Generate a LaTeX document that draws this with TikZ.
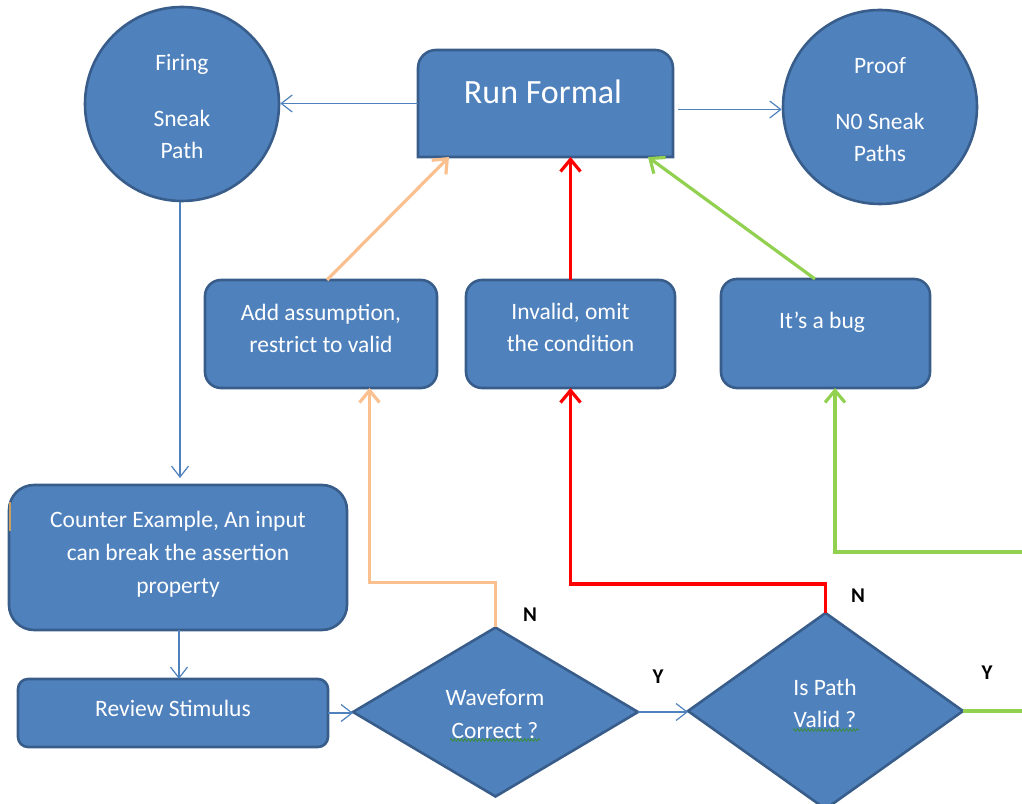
\documentclass[tikz,border=0pt]{standalone}
\usepackage{fontspec}
\setmainfont{Carlito}
\usetikzlibrary{arrows.meta,shapes.geometric,calc,decorations.pathmorphing}
\definecolor{boxfill}{RGB}{79,129,189}
\definecolor{boxedge}{RGB}{56,93,138}
\definecolor{flowblue}{RGB}{79,129,189}
\definecolor{peach}{RGB}{250,192,144}
\definecolor{leaf}{RGB}{146,208,80}
\definecolor{spellgreen}{RGB}{60,140,60}
\definecolor{tanmark}{RGB}{200,160,100}
\newcommand{\flowtext}{\fontsize{23.5}{32}\selectfont}
\newcommand{\bigflowtext}{\fontsize{34}{40}\selectfont}
\newcommand{\yntext}{\fontsize{21}{24}\selectfont\bfseries}

\begin{document}
\begin{tikzpicture}[x=1pt,y=1pt,
  shapeedge/.style={draw=boxedge, fill=boxfill, line width=2.6pt},
  boxnode/.style={shapeedge, rectangle, inner sep=0pt, outer sep=0pt},
  circnode/.style={shapeedge, circle, minimum size=194pt, inner sep=0pt},
  diamnode/.style={shapeedge, diamond, inner sep=0pt, outer sep=0pt},
  boxtext/.style={text=white, font=\flowtext, align=center, inner sep=0pt},
  yn/.style={text=black, font=\yntext, inner sep=0pt},
  flowline/.style={draw=flowblue, line width=1.2pt,
    -{Straight Barb[length=11pt,width=17pt]}},
  thickline/.style={line width=3.2pt, -{Straight Barb[length=12pt,width=20pt]}},
  squiggle/.style={draw=spellgreen, line width=0.8pt, decorate,
    decoration={snake, amplitude=1.3pt, segment length=3.5pt}}
]
\useasboundingbox (0,0) rectangle (1022,803);
\clip (0,0) rectangle (1022,803);

% result circles
\node[circnode] (fire) at (182,699) {};
\node[boxtext] (t-fire) at (182,696) {Firing\\[24pt]Sneak\\Path};
\node[circnode] (proof) at (880,696) {};
\node[boxtext] (t-proof) at (880,693) {Proof\\[24pt]N0 Sneak\\Paths};

% run box, rounded on top only
\node[rectangle, minimum width=255pt, minimum height=107pt, inner sep=0pt, outer sep=0pt] (run) at (545.5,699.5) {};
\path[shapeedge] (run.south west) -- ([yshift=-18pt]run.north west)
  arc[start angle=180,end angle=90,radius=18pt]
  -- ([xshift=-18pt]run.north east)
  arc[start angle=90,end angle=0,radius=18pt]
  -- (run.south east) -- cycle;
\node[boxtext, font=\bigflowtext] (t-run) at (543,711) {Run Formal};

% action boxes
\node[boxnode, rounded corners=16pt, minimum width=232pt, minimum height=108pt] (add) at (321,469) {};
\node[boxnode, rounded corners=16pt, minimum width=209pt, minimum height=108pt] (inv) at (570.5,469) {};
\node[boxnode, rounded corners=16pt, minimum width=209pt, minimum height=109pt] (bug) at (825.5,469.5) {};
\node[boxtext] (t-add) at (321,475) {Add assumption,\\restrict to valid};
\node[boxtext] (t-inv) at (570.5,475.5) {Invalid, omit\\the condition};
\node[boxtext] (t-bug) at (822,480.5) {It’s a bug};

% left column
\node[boxnode, rounded corners=25pt, minimum width=338pt, minimum height=145pt] (counter) at (178,245.5) {};
\node[boxtext, font=\fontsize{23.5}{33}\selectfont] (t-counter) at (178,249) {Counter Example, An input\\can break the assertion\\property};
\draw[tanmark, line width=2pt] ([xshift=1pt,yshift=26pt]counter.west) -- ([xshift=1pt,yshift=55pt]counter.west);
\node[boxnode, rounded corners=10pt, minimum width=310pt, minimum height=68pt] (review) at (173,90) {};
\node[boxtext] (t-review) at (173,95) {Review Stimulus};

% decisions
\node[diamnode, minimum width=285pt, minimum height=169pt] (wave) at (495.5,91) {};
\node[boxtext, font=\fontsize{23.5}{33}\selectfont] (t-wave) at (495,89) {Waveform\\Correct ?};
\node[diamnode, minimum width=275pt, minimum height=196pt] (pathq) at (825.5,92) {};
\node[boxtext] (t-pathq) at (825,100) {Is Path\\Valid ?};
\draw[squiggle] (450,63) -- (540,63);
\draw[squiggle] (793,73) -- (859,73);

% branch labels
\node[yn] (n1) at (530,188) {N};
\node[yn] (y1) at (658,126) {Y};
\node[yn] (n2) at (858,207) {N};
\node[yn] (y2) at (987,130) {Y};

% thin flow connectors
\draw[flowline] (run.west) -- (run.west -| fire.east);
\draw[flowline] ([xshift=5pt,yshift=-6pt]run.east) -- ([yshift=-6pt]run.east -| proof.west);
\draw[flowline] ([xshift=-2pt]fire.south) -- ([xshift=-2pt,yshift=7pt]fire.south |- counter.north);
\draw[flowline] ([xshift=1pt]counter.south) -- ([xshift=1pt]counter.south |- review.north);
\draw[flowline] (review.east) -- (review.east -| wave.west);
\draw[flowline] (wave.east) -- (wave.east -| pathq.west);

% feedback into the run box
\draw[thickline, peach] ([xshift=6pt]add.north) -- ([xshift=-96.5pt]run.south);
\draw[thickline, red] (inv.north) -- (inv.north |- run.south);
\draw[thickline, leaf] ([xshift=-10.5pt]bug.north) -- ([xshift=102.5pt]run.south);

% decision outcomes
\draw[thickline, peach] (wave.north) -- ++(0,45) -| ([xshift=48.5pt]add.south);
\draw[thickline, red] (pathq.north) -- ++(0,29) -| (inv.south);
\coordinate (gback) at (835,251);
\draw[thickline, leaf] (pathq.east) -- ++(90,0) |- (gback) -- (gback |- bug.south);
\end{tikzpicture}
\end{document}
